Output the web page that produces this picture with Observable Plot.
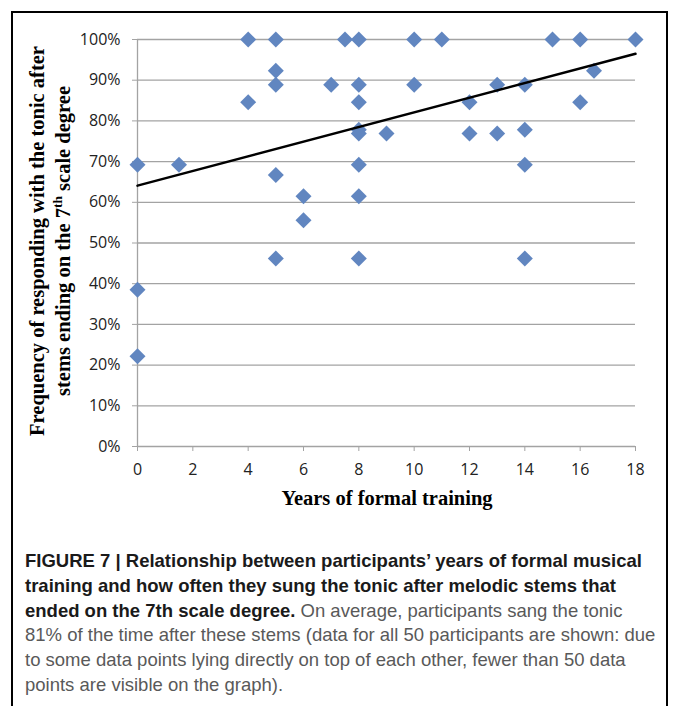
<!DOCTYPE html>
<html>
<head>
<meta charset="utf-8">
<script src="https://cdn.jsdelivr.net/npm/d3@7"></script>
<script src="https://cdn.jsdelivr.net/npm/@observablehq/plot@0.6"></script>
<style>
  html, body { margin: 0; padding: 0; background: #fff; }
  #page { position: relative; width: 675px; height: 706px; overflow: hidden; }
  #frame { position: absolute; left: 11px; top: 11px; width: 657px; height: 720px; border: 2px solid #000; box-sizing: border-box; }
  #chart { position: absolute; left: 0; top: 0; }
  #caption { position: absolute; left: 25px; top: 549px; font-family: "Liberation Sans Narrow", "Liberation Sans", Arial, sans-serif; font-size: 18.5px; line-height: 24.8px; color: #595959; white-space: nowrap; }
  #caption b { color: #1a1a1a; font-weight: bold; }
</style>
</head>
<body>
<div id="page">
  <div id="frame"></div>
  <div id="chart"></div>
  <div id="caption">
    <div><b>FIGURE 7 | Relationship between participants’ years of formal musical</b></div>
    <div><b>training and how often they sung the tonic after melodic stems that</b></div>
    <div><b>ended on the 7th scale degree.</b> On average, participants sang the tonic</div>
    <div>81% of the time after these stems (data for all 50 participants are shown: due</div>
    <div>to some data points lying directly on top of each other, fewer than 50 data</div>
    <div>points are visible on the graph).</div>
  </div>
</div>
<script>
// Years of formal training (x) and frequency of responding with the tonic, % (y)
const years = [0, 0, 0, 1.5, 4, 4, 5, 5, 5, 5, 5, 6, 6, 7, 7.5, 8, 8, 8, 8, 8, 8, 8, 8, 9, 10, 10, 11, 12, 12, 13, 13, 14, 14, 14, 14, 15, 16, 16, 16.5, 18];
const freq  = [69.2, 38.5, 22.2, 69.2, 100, 84.6, 100, 92.3, 88.9, 66.7, 46.2, 61.5, 55.6, 88.9, 100, 100, 88.9, 84.6, 77.8, 76.9, 69.2, 61.5, 46.2, 76.9, 100, 88.9, 100, 84.6, 76.9, 88.9, 76.9, 88.9, 77.8, 69.2, 46.2, 100, 100, 84.6, 92.3, 100];

// Linear trend line end points
const trendX = [0, 18];
const trendY = [64.1, 96.5];

const yTicks = [0, 10, 20, 30, 40, 50, 60, 70, 80, 90, 100];
const xTicks = [0, 2, 4, 6, 8, 10, 12, 14, 16, 18];

const points = years.map((x, i) => ({x, y: freq[i]}));
const trend = trendX.map((x, i) => ({x, y: trendY[i]}));

const grid = "#a3a3a3";
const chart = Plot.plot({
  width: 675,
  height: 520,
  marginLeft: 137,
  marginRight: 40,
  marginTop: 39,
  marginBottom: 74,
  x: {domain: [0, 18]},
  y: {domain: [0, 100]},
  style: {fontFamily: "'Open Sans', sans-serif", fontSize: "16px", color: "#222", background: "transparent", overflow: "visible"},
  marks: [
    Plot.ruleY(yTicks, {stroke: grid, strokeWidth: 1.3}),
    Plot.ruleX([0], {stroke: grid, strokeWidth: 1.3}),
    Plot.axisY({ticks: yTicks, tickSize: 5, tickPadding: 12, tickFormat: d => d + "%", stroke: grid, strokeOpacity: 1, fill: "#222", fontSize: 16, label: null}),
    Plot.axisX({ticks: xTicks, tickSize: 5, tickPadding: 12, tickFormat: d => String(d), stroke: grid, strokeOpacity: 1, fill: "#222", fontSize: 16, label: null}),
    Plot.dot(points, {x: "x", y: "y", symbol: "diamond2", r: 7.2, fill: "#6186c0", stroke: "none"}),
    Plot.line(trend, {x: "x", y: "y", stroke: "#000", strokeWidth: 2.5})
  ]
});
document.getElementById("chart").appendChild(chart);

// Axis titles
const svg = d3.select(chart);
const serif = "'Liberation Serif', 'Times New Roman', serif";
svg.append("text")
  .attr("x", 387).attr("y", 505)
  .attr("text-anchor", "middle")
  .attr("font-family", serif).attr("font-weight", "bold").attr("font-size", 20.5)
  .attr("fill", "#000")
  .text("Years of formal training");

const yt = svg.append("g").attr("transform", "translate(0,241) rotate(-90)")
  .attr("font-family", serif).attr("font-weight", "bold").attr("font-size", 20.5).attr("fill", "#000")
  .attr("text-anchor", "middle");
yt.append("text").attr("x", 0).attr("y", 44).text("Frequency of responding with the tonic after");
const l2 = yt.append("text").attr("x", 0).attr("y", 70);
l2.append("tspan").text("stems ending on the 7");
l2.append("tspan").attr("font-size", 13.5).attr("dy", -8).text("th");
l2.append("tspan").attr("dy", 8).text(" scale degree");
</script>
</body>
</html>
